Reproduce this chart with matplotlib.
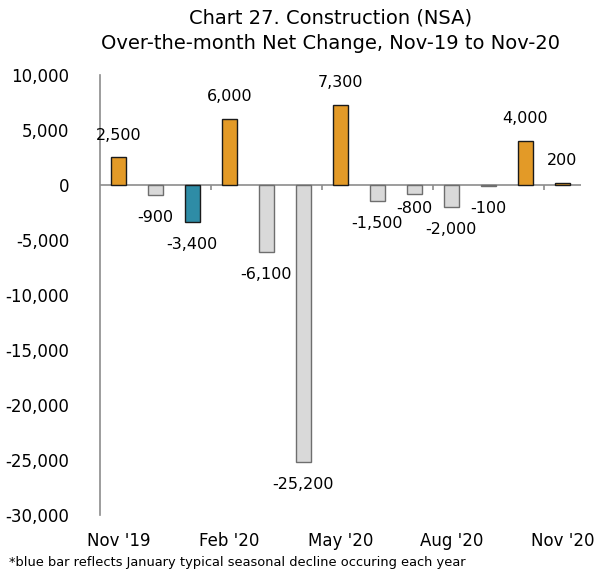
import matplotlib.pyplot as plt
import matplotlib.ticker as mticker
import numpy as np

# 数据
months = ["Nov '19", "Dec '19", "Jan '20", "Feb '20", "Mar '20", "Apr '20", "May '20",
          "Jun '20", "Jul '20", "Aug '20", "Sep '20", "Oct '20", "Nov '20"]
net_change = [2500, -900, -3400, 6000, -6100, -25200, 7300, -1500, -800, -2000, -100, 4000, 200]
seasonal_month = "Jan '20"
shown_labels = ["Nov '19", "Feb '20", "May '20", "Aug '20", "Nov '20"]

ORANGE = '#E39A27'
BLUE = '#2E8CA6'
GREY = '#D9D9D9'
AXIS = '#8C8C8C'

plt.rcParams['font.family'] = ['DejaVu Sans']

fig = plt.figure(figsize=(6.05, 5.8), dpi=100)
ax = fig.add_axes([0.165, 0.112, 0.795, 0.759])

x = np.arange(len(months))
colors, edges = [], []
for m, v in zip(months, net_change):
    if m == seasonal_month:
        colors.append(BLUE); edges.append('#1a1a1a')
    elif v > 0:
        colors.append(ORANGE); edges.append('#1a1a1a')
    else:
        colors.append(GREY); edges.append('#6e6e6e')

ax.bar(x, net_change, width=0.41, color=colors, edgecolor=edges, linewidth=1.0, zorder=3)

# 数据标签，Jul '20 的标签在原图中靠得更近
for m, xi, v in zip(months, x, net_change):
    off = 11 if m == "Jul '20" else 16
    dy = off if v >= 0 else -off
    ax.annotate(f'{v:,}', (xi, v), xytext=(0, dy), textcoords='offset points',
                ha='center', va='center', fontsize=11.5)

ax.set_xlim(-0.5, len(months) - 0.5)
ax.set_ylim(-30000, 10000)
ax.yaxis.set_major_locator(mticker.MultipleLocator(5000))
ax.yaxis.set_major_formatter(mticker.FuncFormatter(lambda v, p: f'{int(v):,}'))
ax.tick_params(axis='y', length=0, labelsize=12, pad=22)

ax.set_xticks([months.index(m) for m in shown_labels])
ax.set_xticklabels(shown_labels)
ax.tick_params(axis='x', length=0, labelsize=12, pad=12)

for s in ['top', 'right', 'bottom']:
    ax.spines[s].set_visible(False)
ax.spines['left'].set_color(AXIS)
ax.spines['left'].set_linewidth(1.2)

ax.axhline(0, color=AXIS, linewidth=1.2, zorder=2)
ax.vlines([2.5, 5.5, 8.5, 11.5], -450, 0, color=AXIS, linewidth=1.2, zorder=2)

fig.text(0.547, 0.985, 'Chart 27. Construction (NSA)\nOver-the-month Net Change, Nov-19 to Nov-20',
         ha='center', va='top', fontsize=14, linespacing=1.4)
fig.text(0.015, 0.03, '*blue bar reflects January typical seasonal decline occuring each year',
         ha='left', va='center', fontsize=9.4)

fig.savefig('out.png', dpi=100)
